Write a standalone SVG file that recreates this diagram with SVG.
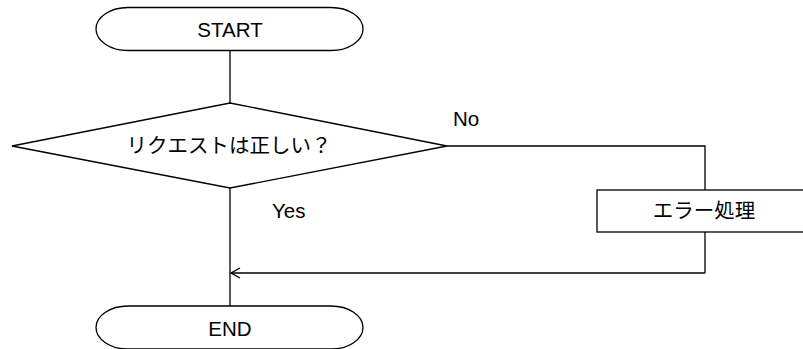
<svg xmlns="http://www.w3.org/2000/svg" width="803" height="349" viewBox="0 0 803 349">
<defs>
<style>
.shape{fill:#fff;stroke:#000;stroke-width:1.3}
.line{fill:none;stroke:#000;stroke-width:1.3}
.t{font-family:"Liberation Sans","Noto Sans CJK JP",sans-serif;font-size:20.5px;fill:#000}
.m{text-anchor:middle}
</style>
<marker id="arr" markerWidth="12" markerHeight="12" refX="11" refY="6" orient="auto" markerUnits="userSpaceOnUse">
<path d="M2,1 L11,6 L2,11" fill="none" stroke="#000" stroke-width="1.3"/>
</marker>
</defs>
<rect width="803" height="349" fill="#fff"/>
<g id="connectors">
<line class="line" x1="230" y1="51" x2="230" y2="103"/>
<polyline class="line" points="447,146 705,146 705,190"/>
<line class="line" x1="705" y1="232" x2="705" y2="273"/>
<line class="line" x1="705" y1="273" x2="231" y2="273" marker-end="url(#arr)"/>
<line class="line" x1="230" y1="188" x2="230" y2="306"/>
<text class="t" x="453" y="126">No</text>
<text class="t" x="272" y="218">Yes</text>
</g>
<g id="start">
<rect class="shape" x="96" y="7.5" width="267" height="43" rx="32" ry="21.5"/>
<text class="t m" x="230" y="37">START</text>
</g>
<g id="decision">
<polygon class="shape" points="230,103 447,146 230,188 12,146"/>
<text class="t m" x="229" y="153">リクエストは正しい？</text>
</g>
<g id="error">
<rect class="shape" x="597" y="190" width="215" height="42"/>
<text class="t m" x="704" y="218">エラー処理</text>
</g>
<g id="end">
<rect class="shape" x="96" y="306" width="267" height="43" rx="32" ry="21.5"/>
<text class="t m" x="230" y="336">END</text>
</g>
</svg>
